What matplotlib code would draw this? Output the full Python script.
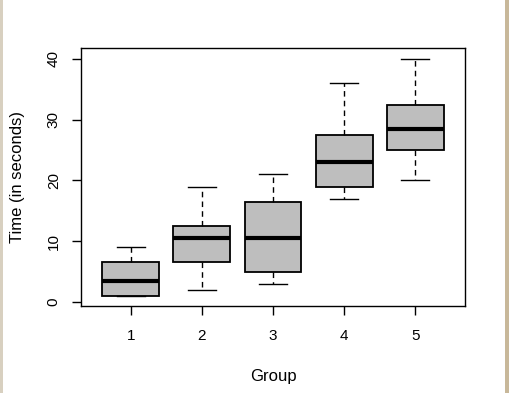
import matplotlib
matplotlib.use("Agg")
import matplotlib.pyplot as plt
from matplotlib.patches import Rectangle

plt.rcParams['font.family'] = ['Liberation Sans', 'DejaVu Sans']

# five-number summaries
groups = ["1", "2", "3", "4", "5"]
whislo = [1, 2, 3, 17, 20]
q1 = [1, 6.5, 5, 19, 25]
med = [3.5, 10.5, 10.5, 23, 28.5]
q3 = [6.5, 12.5, 16.5, 27.5, 32.5]
whishi = [9, 19, 21, 36, 40]
yticks = [0, 10, 20, 30, 40]

stats = []
for i, g in enumerate(groups):
    stats.append(dict(label=g, whislo=whislo[i], q1=q1[i], med=med[i],
                      q3=q3[i], whishi=whishi[i], fliers=[]))

fig = plt.figure(figsize=(5.09, 3.93), dpi=100)
ax = fig.add_axes([81/509, 1-306/393, 384/509, 258/393])

ax.bxp(stats, positions=range(1, 6), widths=0.8, patch_artist=True,
       showfliers=False,
       boxprops=dict(facecolor='#bebebe', edgecolor='black', linewidth=1.3),
       medianprops=dict(color='black', linewidth=3, solid_capstyle='butt'),
       whiskerprops=dict(color='black', linewidth=1, linestyle=(0, (4, 3))),
       capprops=dict(color='black', linewidth=1), capwidths=0.4)

ax.set_xlim(0.3, 5.7)
ax.set_ylim(-0.66, 41.8)
ax.set_yticks(yticks)
ax.set_yticklabels([str(t) for t in yticks], rotation=90, va='center')
ax.tick_params(axis='both', direction='out', length=6.5, width=1, labelsize=11,
               colors='black')
ax.tick_params(axis='x', pad=10)
ax.tick_params(axis='y', pad=8)
for s in ax.spines.values():
    s.set_linewidth(1)

ax.set_xlabel("Group", fontsize=12, va='center')
ax.set_ylabel("Time (in seconds)", fontsize=12, va='center')
ax.xaxis.set_label_coords(0.5, (306-377)/258)
ax.yaxis.set_label_coords((18-81)/384, 0.5)

# window frame edges
fig.patches.append(Rectangle((0, 0), 3/509, 1, transform=fig.transFigure,
                             facecolor='#d8d0c0', edgecolor='none'))
fig.patches.append(Rectangle((505/509, 0), 4/509, 1, transform=fig.transFigure,
                             facecolor='#c8b89a', edgecolor='none'))

fig.savefig("out.png", dpi=100)
